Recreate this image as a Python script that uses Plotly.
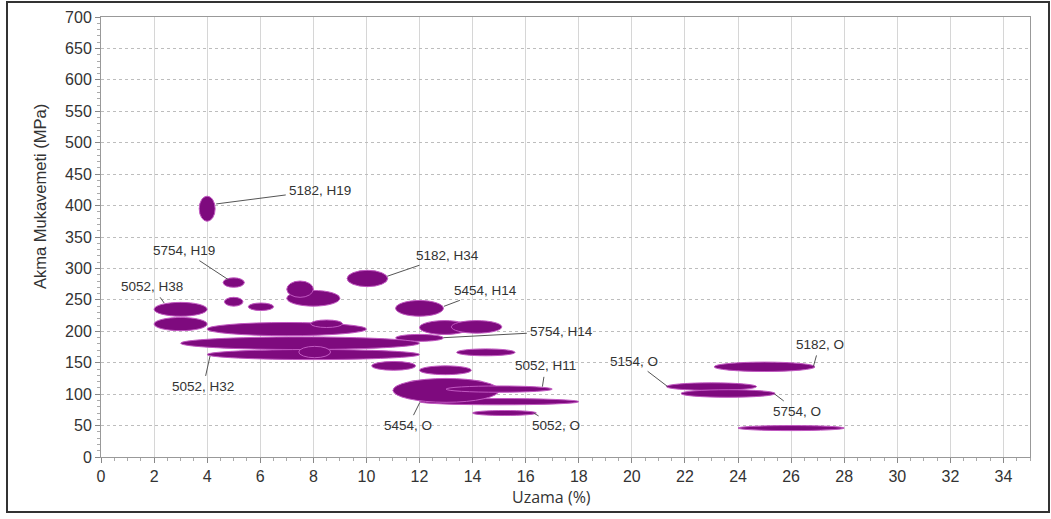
import plotly.graph_objects as go

# Ellipses: elongation range (%) and yield strength range (MPa)
ell_x_min = [2.0, 2.0, 4.65, 5.55, 4.6, 7.0, 7.0, 3.7, 9.27, 11.1, 12.0, 13.2, 11.1, 4.0, 7.9, 3.0, 4.0, 7.45,
             10.2, 13.4, 12.0, 12.0, 11.0, 13.0, 14.0, 23.1, 21.3, 21.85, 24.0]
ell_x_max = [4.0, 4.0, 5.35, 6.5, 5.4, 9.0, 8.0, 4.3, 10.8, 12.9, 13.9, 15.1, 12.9, 10.0, 9.1, 12.0, 12.0, 8.65,
             11.85, 15.6, 13.95, 18.0, 15.0, 17.0, 16.4, 26.9, 24.7, 25.4, 28.0]
ell_y_min = [224, 201, 240, 233, 270, 240, 254, 375, 271, 224, 195, 197, 184, 193, 206, 171, 155, 158,
             138, 161, 131, 83, 87, 103, 66, 136, 106, 95, 42]
ell_y_max = [246, 222, 254, 245, 285, 265, 280, 415, 297, 249, 217, 217, 195, 214, 218, 191, 171, 176,
             152, 172, 145, 93, 125, 113, 74, 151, 118, 107, 50]

# Labels: text, anchor point on ellipse, label centre
lab_text = ["5182, H19", "5754, H19", "5052, H38", "5052, H32", "5182, H34", "5454, H14", "5754, H14",
            "5052, H11", "5454, O", "5052, O", "5154, O", "5182, O", "5754, O"]
lab_ax = [4.34, 4.80, 2.38, 4.11, 10.78, 12.92, 12.9, 16.63, 12.01, 16.31, 21.35, 26.84, 25.37]
lab_ay = [402.6, 282, 245, 161, 287.5, 239.7, 189.8, 112, 86.6, 69.7, 112, 144, 100.5]
lab_tx = [8.26, 3.13, 1.94, 3.85, 13.06, 14.49, 17.36, 16.75, 11.57, 17.13, 20.09, 27.07, 26.23]
lab_ty = [424, 328.5, 271, 111.6, 320.5, 264.7, 199.8, 145, 49.4, 49.4, 152.6, 179, 72.9]

x_ticks = list(range(0, 35, 2))
y_ticks = list(range(0, 701, 50))

L, R, T, B = 101, 1030, 17, 457
W = R - L
H = B - T

fig = go.Figure()
fig.add_trace(go.Scatter(x=[0, 35], y=[0, 700], mode="markers", marker=dict(opacity=0),
                         hoverinfo="skip", showlegend=False))

for x0, x1, y0, y1 in zip(ell_x_min, ell_x_max, ell_y_min, ell_y_max):
    fig.add_shape(type="circle", xref="x", yref="y", x0=x0, x1=x1, y0=y0, y1=y1,
                  fillcolor="#7e0a7e", line=dict(color="#c158c1", width=1))

for t, ax, ay, tx, ty in zip(lab_text, lab_ax, lab_ay, lab_tx, lab_ty):
    fig.add_annotation(x=ax, y=ay, ax=tx, ay=ty, axref="x", ayref="y", xref="x", yref="y",
                       text=t, showarrow=True, arrowhead=0, arrowwidth=1, arrowcolor="#555555",
                       standoff=0, startstandoff=2,
                       font=dict(family="Liberation Sans, Arial", size=13.5, color="#333333"))

fig.add_annotation(text="Uzama (%)", xref="paper", yref="paper", x=(551 - L) / W, y=(B - 497) / H,
                   xanchor="center", yanchor="middle", showarrow=False,
                   font=dict(family="Open Sans", size=16, color="#333333"))
fig.add_annotation(text="Akma Mukavemeti (MPa)", xref="paper", yref="paper", x=(40 - L) / W,
                   y=(B - 197) / H, xanchor="center", yanchor="middle", textangle=-90, showarrow=False,
                   font=dict(family="Liberation Sans, Arial", size=16.5, color="#333333"))

# outer frame
fig.add_shape(type="rect", xref="paper", yref="paper", x0=(7 - L) / W, x1=(1049 - L) / W,
              y0=(B - 512) / H, y1=(B - 2) / H, line=dict(color="#333333", width=2), layer="below")

fig.update_xaxes(range=[0, 35], tickvals=x_ticks, ticks="outside", ticklen=5, tickcolor="#888888",
                 showline=True, linecolor="#999999", mirror=True, showgrid=True, gridcolor="#d6d6d6",
                 gridwidth=1, zeroline=False, automargin=False,
                 minor=dict(ticks="outside", dtick=0.5, ticklen=3, tickcolor="#aaaaaa", showgrid=False),
                 tickfont=dict(family="Liberation Sans, Arial", size=16, color="#333333"))
fig.update_yaxes(range=[0, 700], tickvals=y_ticks, ticks="outside", ticklen=5, tickcolor="#888888",
                 showline=True, linecolor="#999999", mirror=True, showgrid=True, gridcolor="#bdbdbd",
                 griddash="dot", gridwidth=1, zeroline=False, automargin=False,
                 minor=dict(ticks="outside", dtick=10, ticklen=3, tickcolor="#aaaaaa", showgrid=False),
                 tickfont=dict(family="Liberation Sans, Arial", size=16, color="#333333"))

fig.update_layout(width=1051, height=519, margin=dict(l=L, r=1051 - R, t=T, b=519 - B, autoexpand=False),
                  paper_bgcolor="white", plot_bgcolor="white", showlegend=False)

fig.write_html("out.html", config={"displayModeBar": False},
               post_script="document.body.style.margin='0';document.body.style.overflow='hidden';")
